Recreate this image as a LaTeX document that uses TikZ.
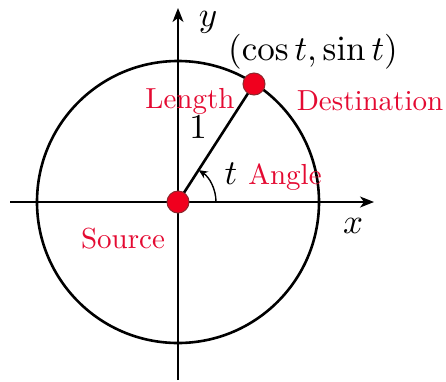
\documentclass[tikz,border=0pt]{standalone}
\usetikzlibrary{arrows.meta}
\definecolor{lblred}{RGB}{228,10,50}
\definecolor{dotred}{RGB}{240,0,30}
\definecolor{dotrim}{RGB}{140,40,45}
\newcommand{\mybigmath}[1]{\scalebox{3.5}{\fontsize{10}{12}\selectfont$#1$}}
\newcommand{\mybigtext}[1]{\scalebox{2.9}{\fontsize{10}{12}\selectfont #1}}
\begin{document}
\begin{tikzpicture}[x=1pt,y=-1pt,
  axis/.style={line width=1.4pt,-{Stealth[length=14pt,width=11pt,inset=4pt]}},
  lbl/.style={text=lblred,inner sep=0pt},
  mth/.style={inner sep=0pt},
  dot/.style={circle,fill=dotred,draw=dotrim,line width=1pt,minimum size=22pt,inner sep=0pt}]
\useasboundingbox (0,0) rectangle (446,381);
\coordinate (O) at (178,202);
\coordinate (P) at (254,84);
\coordinate (xl) at (10,202);
\coordinate (xr) at (374,202);
\coordinate (yb) at (178,380);
\coordinate (yt) at (178,8);
\coordinate (a0) at (216,202);
\draw[line width=2.6pt] (O) circle[radius=141];
\draw[axis] (xl) -- (xr);
\draw[axis] (yb) -- (yt);
\draw[line width=2.6pt] (O) -- (P);
\draw[line width=1.4pt,-{Stealth[length=9pt,width=8pt,inset=3pt]}] (a0) arc[start angle=0,end angle=-57,radius=38];
\node[dot] (src) at (O) {};
\node[dot] (dst) at (P) {};
\node[mth] (ylab) at (208,22) {\mybigmath{y}};
\node[mth] (xlab) at (353,226) {\mybigmath{x}};
\node[mth] (pt) at (313,52) {\mybigmath{(\cos t,\sin t)}};
\node[mth] (one) at (198,127) {\mybigmath{1}};
\node[mth] (tlab) at (231,174) {\mybigmath{t}};
\node[lbl,anchor=base] (len) at (190,108) {\mybigtext{Length}};
\node[lbl,anchor=base] (dest) at (370,110) {\mybigtext{Destination}};
\node[lbl,anchor=base] (ang) at (285,184) {\mybigtext{Angle}};
\node[lbl,anchor=base] (srcl) at (123,248) {\mybigtext{Source}};
\end{tikzpicture}
\end{document}
